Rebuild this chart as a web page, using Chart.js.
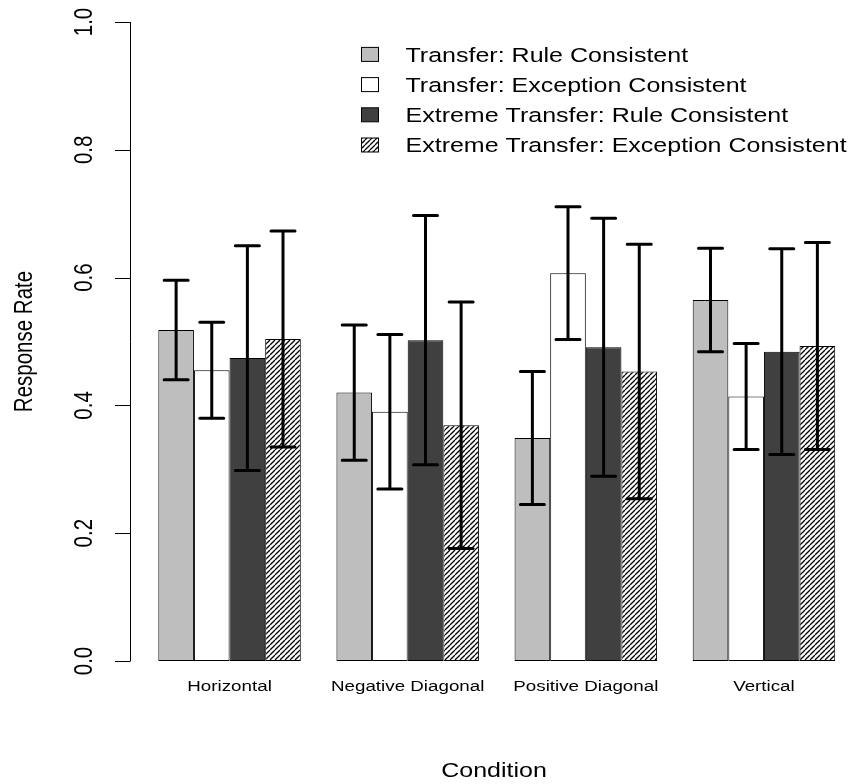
<!DOCTYPE html>
<html>
<head>
<meta charset="utf-8">
<script src="https://cdn.jsdelivr.net/npm/chart.js@4.4.1/dist/chart.umd.min.js"></script>
<style>
  html, body { margin: 0; padding: 0; background: #ffffff; }
  canvas { display: block; }
</style>
</head>
<body>
<canvas id="chart" width="859" height="784"></canvas>
<script>
// ---- data ----
const categories = ['Horizontal', 'Negative Diagonal', 'Positive Diagonal', 'Vertical'];
const seriesNames = [
  'Transfer: Rule Consistent',
  'Transfer: Exception Consistent',
  'Extreme Transfer: Rule Consistent',
  'Extreme Transfer: Exception Consistent'
];
// mean response rates per condition
const transferRule        = [0.518, 0.420, 0.349, 0.565];
const transferException   = [0.455, 0.390, 0.607, 0.414];
const extremeRule         = [0.474, 0.502, 0.491, 0.484];
const extremeException    = [0.504, 0.369, 0.453, 0.493];
// half-widths of the error bars
const transferRuleErr      = [0.078, 0.106, 0.104, 0.081];
const transferExceptionErr = [0.075, 0.121, 0.104, 0.083];
const extremeRuleErr       = [0.176, 0.195, 0.202, 0.161];
const extremeExceptionErr  = [0.169, 0.193, 0.199, 0.162];
// y axis ticks
const yTicks = [0, 0.2, 0.4, 0.6, 0.8, 1.0];
const yTickLabels = ['0.0', '0.2', '0.4', '0.6', '0.8', '1.0'];
const xTitle = 'Condition';
const yTitle = 'Response Rate';

// ---- styling ----
const FONT = '"Liberation Sans", Arial, Helvetica, sans-serif';
const SX = 1.22;            // horizontal widening of the lettering
const AXIS_X = 130.5;       // y axis line position
const TICK_LEN = 15.5;

function hatchPattern() {
  const T = 5;
  const c = document.createElement('canvas');
  c.width = T; c.height = T;
  const g = c.getContext('2d');
  g.fillStyle = '#ffffff';
  g.fillRect(0, 0, T, T);
  g.strokeStyle = '#000000';
  g.lineWidth = 1.25;
  for (let k = -1; k <= 1; k++) {
    g.beginPath();
    g.moveTo(k * T, T);
    g.lineTo(k * T + T, 0);
    g.stroke();
  }
  return g.createPattern(c, 'repeat');
}
const hatch = hatchPattern();

const fills = ['#bebebe', '#ffffff', '#404040', hatch];
const values = [transferRule, transferException, extremeRule, extremeException];
const errors = [transferRuleErr, transferExceptionErr, extremeRuleErr, extremeExceptionErr];

function drawText(ctx, str, x, y, size, align, baseline, rot) {
  ctx.save();
  ctx.translate(x, y);
  ctx.scale(SX, 1);
  ctx.rotate(rot || 0);
  ctx.font = size + 'px ' + FONT;
  ctx.textAlign = align;
  ctx.textBaseline = baseline;
  ctx.fillStyle = '#000000';
  ctx.fillText(str, 0, 0);
  ctx.restore();
}

const background = {
  id: 'background',
  beforeDraw(chart) {
    const ctx = chart.ctx;
    ctx.save();
    ctx.fillStyle = '#ffffff';
    ctx.fillRect(0, 0, chart.width, chart.height);
    ctx.restore();
  }
};

// error bars with caps, centred on each bar
const errorBars = {
  id: 'errorBars',
  afterDatasetsDraw(chart) {
    const ctx = chart.ctx;
    const y = chart.scales.y;
    ctx.save();
    ctx.strokeStyle = '#000000';
    ctx.lineWidth = 3;
    ctx.lineCap = 'round';
    chart.data.datasets.forEach((ds, di) => {
      const meta = chart.getDatasetMeta(di);
      meta.data.forEach((bar, i) => {
        const v = ds.data[i];
        const e = errors[di][i];
        const x = bar.x;
        const yLo = y.getPixelForValue(v - e);
        const yHi = y.getPixelForValue(v + e);
        const half = 12;
        ctx.beginPath();
        ctx.moveTo(x, yLo); ctx.lineTo(x, yHi);
        ctx.moveTo(x - half, yLo); ctx.lineTo(x + half, yLo);
        ctx.moveTo(x - half, yHi); ctx.lineTo(x + half, yHi);
        ctx.stroke();
      });
    });
    ctx.restore();
  }
};

// axis line, ticks, labels, titles and legend box
const decorations = {
  id: 'decorations',
  afterDraw(chart) {
    const ctx = chart.ctx;
    const y = chart.scales.y;
    const x = chart.scales.x;
    const area = chart.chartArea;
    ctx.save();
    ctx.strokeStyle = '#000000';
    ctx.lineWidth = 1;
    ctx.beginPath();
    ctx.moveTo(AXIS_X, y.getPixelForValue(yTicks[0]));
    ctx.lineTo(AXIS_X, y.getPixelForValue(yTicks[yTicks.length - 1]));
    yTicks.forEach(t => {
      const py = Math.round(y.getPixelForValue(t)) + 0.5;
      ctx.moveTo(AXIS_X - TICK_LEN, py);
      ctx.lineTo(AXIS_X, py);
    });
    ctx.stroke();
    ctx.restore();

    yTicks.forEach((t, i) => {
      drawText(ctx, yTickLabels[i], 92, y.getPixelForValue(t), 20.5, 'center', 'alphabetic', -Math.PI / 2);
    });
    drawText(ctx, yTitle, 32, (area.top + area.bottom) / 2, 20.5, 'center', 'alphabetic', -Math.PI / 2);

    categories.forEach((c, i) => {
      drawText(ctx, c, x.getPixelForValue(i), 690.5, 15.4, 'center', 'alphabetic', 0);
    });
    drawText(ctx, xTitle, 494, 777, 20.5, 'center', 'alphabetic', 0);

    // legend
    const rows = [54.4, 84.6, 114.8, 145];
    seriesNames.forEach((name, i) => {
      ctx.save();
      ctx.fillStyle = fills[i];
      ctx.fillRect(361.5, rows[i] - 7, 17, 14);
      ctx.strokeStyle = '#000000';
      ctx.lineWidth = 1;
      ctx.strokeRect(361.5, rows[i] - 7, 17, 14);
      ctx.restore();
      drawText(ctx, name, 405.5, rows[i] + 7.3, 20.5, 'left', 'alphabetic', 0);
    });
  }
};

new Chart(document.getElementById('chart'), {
  type: 'bar',
  data: {
    labels: categories,
    datasets: seriesNames.map((name, i) => ({
      label: name,
      data: values[i],
      backgroundColor: fills[i],
      borderColor: '#000000',
      borderWidth: 1,
      borderSkipped: false,
      categoryPercentage: 0.8,
      barPercentage: 1.0
    }))
  },
  options: {
    responsive: false,
    animation: false,
    layout: { padding: { left: 140.5, right: 6, top: 22, bottom: 123 } },
    scales: {
      x: { display: false },
      y: { display: false, min: 0, max: 1 }
    },
    plugins: {
      legend: { display: false },
      tooltip: { enabled: false }
    }
  },
  plugins: [background, errorBars, decorations]
});
</script>
</body>
</html>
